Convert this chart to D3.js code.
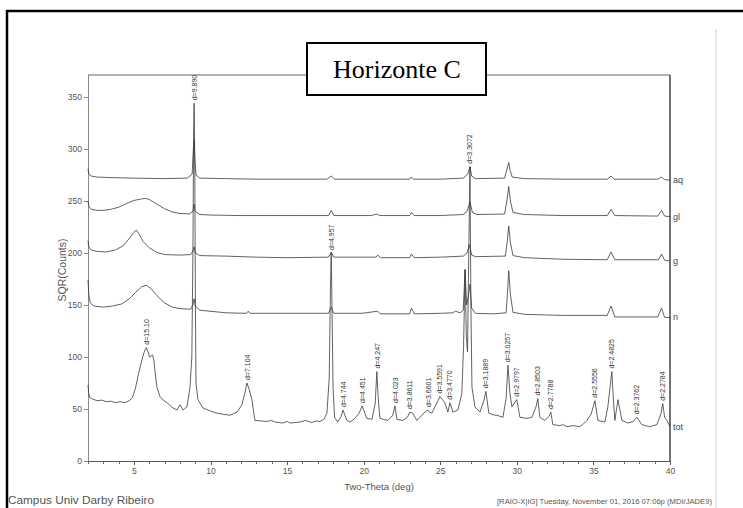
<!DOCTYPE html>
<html lang="pt">
  <head>
    <meta charset="utf-8" />
    <title>Horizonte C</title>
    <script src="https://d3js.org/d3.v7.min.js"></script>
    <style type="text/css">
      body {
        margin: 0;
        background: #fff;
      }
      svg {
        font-family: "Liberation Sans", Arial, sans-serif;
      }
      .axis path, .axis line {
        shape-rendering: crispEdges;
      }
    </style>
  </head>
  <body>
    <svg id="chart" width="743" height="508"></svg>

    <script type="text/javascript">
      // traces: [two-theta (deg), SQR(counts)]
      const aq = [[2.0,281],[2.05,276],[2.2,274],[2.6,273],[3.5,272.5],[5,272],[7,271.5],[8.5,272],[8.8,276],[8.88,300],
        [8.93,309],[8.98,290],[9.05,275],[9.3,272],[11,271.5],[13,271],[15,271],[17.6,271],[17.88,274],[18.1,271],
        [20,271],[23.0,271],[23.1,273],[23.25,271],[25,271],[26.5,272],[26.8,276],[26.94,283],[27.05,274],[27.3,271.5],
        [29.2,272],[29.4,283],[29.47,287],[29.55,280],[29.7,273],[30.5,271.5],[33,271],[35.9,271],[36.15,274],[36.35,271],
        [39.2,271],[39.45,273],[39.65,270.5],[40,270]];

      const gl = [[2.0,250],[2.05,245],[2.2,242],[2.6,241],[3.0,241],[3.5,242],[4.0,244],[4.5,247.5],[5.0,250.5],[5.5,252],
        [5.75,252.5],[6.0,251.5],[6.5,247],[7.0,242.5],[7.5,239.5],[8.0,238],[8.6,237.5],[8.85,240],[8.93,247],[9.0,240],
        [9.3,237],[10,236.5],[12,236],[14,236],[16,236],[17.7,236],[17.88,241],[18.05,236],[20.5,236],[20.85,237.5],
        [21.05,236],[23.0,236],[23.12,239],[23.3,236],[25,236],[26.5,237],[26.75,240],[26.94,249],[27.1,239],[27.4,237],
        [29.2,237.5],[29.35,250],[29.47,264],[29.58,250],[29.75,239],[30.5,237],[33,236],[35.9,236],[36.15,242],[36.4,236],
        [39.2,235.5],[39.45,241],[39.65,235.5],[40,235]];

      const g = [[2.0,212],[2.05,206],[2.2,203],[2.6,201.5],[3.2,201],[3.8,203],[4.3,207],[4.7,214],[5.0,220],[5.15,222],
        [5.35,218],[5.6,211],[6.0,205],[6.5,200.5],[7.0,198.5],[8.0,198],[8.7,198.5],[8.85,202],[8.93,206],[9.0,200],
        [9.3,197.5],[11,197],[13,196],[15,195.5],[17.7,196],[17.88,201],[18.05,196],[20.8,196],[20.92,198],[21.1,195.5],
        [23.0,195.5],[23.12,199],[23.3,195.5],[25,196],[26.5,197],[26.75,200],[26.9,208],[27.05,198],[27.3,196.5],
        [29.25,197],[29.38,212],[29.47,226],[29.58,210],[29.75,197.5],[30.5,195.5],[33,194],[35.9,193.5],[36.15,201],
        [36.4,193.5],[39.25,193.5],[39.45,199],[39.65,193],[40,192.5]];

      const n = [[2.0,174],[2.05,160],[2.15,152],[2.4,149],[3.0,148],[3.6,149],[4.2,151],[4.7,156],[5.1,162],[5.5,167.5],
        [5.8,169],[6.1,166],[6.5,159],[7.0,152],[7.5,148],[8.0,146.5],[8.7,146],[8.85,150],[8.93,156],[9.0,149],
        [9.3,145],[11,142.5],[12.35,142],[12.45,144],[12.6,142],[15,142],[17.7,142],[17.88,148],[18.05,142],[19.9,142],
        [20.9,144],[21.1,141.5],[23.0,141.5],[23.12,147],[23.3,141.5],[25,142],[25.8,142.5],[26.0,144],[26.3,142.5],
        [26.5,145],[26.62,184],[26.72,150],[26.85,160],[26.94,170],[27.05,147],[27.3,142],[28.5,141.5],[29.3,142.5],
        [29.38,160],[29.47,183],[29.58,160],[29.75,143],[30.5,141],[33,140],[35.9,140],[36.15,149],[36.4,138.5],
        [39.2,138.5],[39.45,147],[39.65,138],[40,138]];

      const tot = [[2.00,73],[2.04,66],[2.12,61],[2.3,59.5],[2.6,58],[2.9,58.5],[3.2,57],[3.5,57.5],[3.8,56],[4.1,57],
        [4.4,56],[4.7,58],[4.9,61],[5.1,70],[5.3,84],[5.5,96],[5.65,104],[5.8,109],[5.92,105],[6.02,100],[6.12,101],
        [6.22,102],[6.3,97],[6.37,87],[6.5,71],[6.7,62],[6.95,58],[7.16,56],[7.55,51],[7.81,49],[8.0,54],[8.2,49],
        [8.46,52],[8.66,71],[8.78,100],[8.85,200],[8.9,320],[8.93,344],[8.97,290],[9.01,160],[9.05,75],[9.18,59],
        [9.5,51],[10.0,48],[10.42,46],[10.8,45],[11.27,44],[11.73,47],[12.05,54],[12.25,66],[12.38,75],[12.5,70],
        [12.7,59],[12.9,39],[13.3,38.5],[13.68,38],[14.0,39],[14.2,37.5],[14.7,36.5],[15.0,38],[15.2,36.5],[15.5,37],
        [15.84,37.5],[16.2,39],[16.6,37],[16.9,38.5],[17.14,38],[17.4,40],[17.6,46],[17.75,80],[17.83,165],[17.88,200],
        [17.93,150],[18.0,70],[18.1,42],[18.3,37.5],[18.5,42],[18.65,49],[18.9,39],[19.1,37.5],[19.43,41],[19.7,46],
        [19.9,53],[20.2,41],[20.54,40],[20.75,55],[20.86,86],[20.95,60],[21.06,41],[21.3,40],[21.58,39],[21.9,44],
        [22.04,53],[22.17,40],[22.56,39],[22.85,42],[23.02,47],[23.2,46],[23.47,39],[23.8,44],[24.0,47],[24.19,49],
        [24.3,47],[24.45,46],[24.65,52],[24.85,58],[24.98,62],[25.15,59],[25.3,56],[25.5,47],[25.63,56],[25.83,47],
        [26.15,49],[26.41,65],[26.52,110],[26.62,184],[26.7,120],[26.78,105],[26.86,200],[26.94,283],[27.0,150],
        [27.07,71],[27.26,52],[27.59,47],[27.85,58],[27.98,67],[28.17,46],[28.57,44],[28.7,44],[29.09,42],[29.3,60],
        [29.42,92],[29.55,65],[29.68,52],[29.85,56],[30.0,59],[30.2,42],[30.66,41],[30.98,42],[31.25,52],[31.37,60],
        [31.5,42],[31.83,39],[32.1,43],[32.22,47],[32.35,35],[32.8,34],[33.0,35],[33.27,33],[33.7,34],[34.1,33],
        [34.3,35],[34.57,39],[34.85,45],[35.1,58],[35.29,39],[35.75,37.5],[35.94,52],[36.08,70],[36.2,86],[36.3,60],
        [36.4,39],[36.6,59],[36.86,39],[37.25,36.5],[37.6,38],[37.84,42],[38.16,35],[38.4,34],[38.68,33],[39.14,35],
        [39.4,45],[39.53,55],[39.65,42],[39.8,39],[40.0,33]];

      const traceNames = ["aq", "gl", "g", "n", "tot"];
      const traces = [aq, gl, g, n, tot];

      // d-spacing labels on the tot pattern
      const peakLabels = ["d=15.10","d=9.890","d=7.104","d=4.957","d=4.744","d=4.451","d=4.247","d=4.023","d=3.8611",
        "d=3.6601","d=3.5591","d=3.4770","d=3.3072","d=3.1889","d=3.0257","d=2.9797","d=2.8503","d=2.7788",
        "d=2.5556","d=2.4825","d=2.3762","d=2.2784"];
      const peakTheta = [5.85,8.93,12.40,17.88,18.67,19.91,20.88,22.05,23.02,24.25,24.98,25.62,26.94,27.98,29.42,30.0,
        31.37,32.22,35.1,36.2,37.84,39.53];
      const peakTop = [109,344,75,200,49,53,86,53,47,49,62,56,283,67,92,59,60,47,58,86,42,55];

      const xTicks = [5, 10, 15, 20, 25, 30, 35, 40];
      const yTicks = [0, 50, 100, 150, 200, 250, 300, 350];

      const svg = d3.select("#chart");

      // outer black frame (runs off the right and bottom of the picture)
      svg.append("rect")
        .attr("x", 7).attr("y", 11)
        .attr("width", 760).attr("height", 520)
        .attr("fill", "none")
        .attr("stroke", "#000")
        .attr("stroke-width", 2.5);

      // faint page edge on the right
      svg.append("line")
        .attr("x1", 716).attr("x2", 716)
        .attr("y1", 29).attr("y2", 508)
        .attr("stroke", "#e8e8e8")
        .attr("stroke-width", 2);

      const x = d3.scaleLinear().domain([2, 40]).range([88, 670]);
      const y = d3.scaleLinear().domain([0, 350]).range([461, 97]);

      // plot frame: grey top, dark right
      svg.append("line")
        .attr("x1", 88).attr("x2", 670).attr("y1", 75).attr("y2", 75)
        .attr("stroke", "#999").attr("stroke-width", 1.5);
      svg.append("line")
        .attr("x1", 670).attr("x2", 670).attr("y1", 75).attr("y2", 461)
        .attr("stroke", "#444").attr("stroke-width", 1.5);

      // y axis
      const yAxis = svg.append("g")
        .attr("class", "axis")
        .attr("transform", "translate(88,0)")
        .call(d3.axisLeft(y).tickValues(yTicks).tickSize(4).tickPadding(2));
      yAxis.select(".domain").attr("d", "M0,75V461").attr("stroke", "#888");
      yAxis.selectAll(".tick line").attr("stroke", "#888");
      yAxis.selectAll("text").attr("font-size", "8.5px").attr("fill", "#555")
        .attr("font-family", "'Liberation Sans', Arial, sans-serif");

      // x axis, minor ticks every degree then labelled majors
      const xMinor = svg.append("g")
        .attr("class", "axis")
        .attr("transform", "translate(0,461)")
        .call(d3.axisBottom(x).tickValues(d3.range(2, 41)).tickSize(3).tickFormat(""));
      xMinor.select(".domain").attr("stroke", "#555").attr("stroke-width", 1.5);
      xMinor.selectAll(".tick line").attr("stroke", "#666");

      const xAxis = svg.append("g")
        .attr("class", "axis")
        .attr("transform", "translate(0,461)")
        .call(d3.axisBottom(x).tickValues(xTicks).tickSize(4).tickPadding(3));
      xAxis.select(".domain").remove();
      xAxis.selectAll(".tick line").attr("stroke", "#555");
      xAxis.selectAll("text").attr("font-size", "8.5px").attr("fill", "#555")
        .attr("font-family", "'Liberation Sans', Arial, sans-serif");

      // axis titles
      svg.append("text")
        .attr("transform", "translate(66,270) rotate(-90)")
        .attr("text-anchor", "middle")
        .attr("font-size", "10.5px")
        .attr("fill", "#555")
        .text("SQR(Counts)");
      svg.append("text")
        .attr("x", x(21)).attr("y", 490)
        .attr("text-anchor", "middle")
        .attr("font-size", "9.5px")
        .attr("fill", "#555")
        .text("Two-Theta (deg)");

      // the five patterns
      const line = d3.line().x(d => x(d[0])).y(d => y(d[1]));
      svg.selectAll("path.trace")
        .data(traces)
        .enter()
        .append("path")
        .attr("class", "trace")
        .attr("d", line)
        .attr("fill", "none")
        .attr("stroke", "#3a3a3a")
        .attr("stroke-width", 0.8);

      // trace names at the right end
      svg.selectAll("text.tname")
        .data(traces)
        .enter()
        .append("text")
        .attr("class", "tname")
        .attr("x", 673)
        .attr("y", d => y(d[d.length - 1][1]) + 3)
        .attr("font-size", "9px")
        .attr("fill", "#444")
        .text((d, i) => traceNames[i]);

      // peak d-spacing labels, written upwards
      svg.selectAll("text.peak")
        .data(peakLabels)
        .enter()
        .append("text")
        .attr("class", "peak")
        .attr("transform", (d, i) => "translate(" + x(peakTheta[i]) + "," + (y(peakTop[i]) - 3) + ") rotate(-90)")
        .attr("dy", "0.35em")
        .attr("font-size", "7px")
        .attr("fill", "#333")
        .text(d => d);

      // title box
      svg.append("rect")
        .attr("x", 307).attr("y", 43)
        .attr("width", 179).attr("height", 52)
        .attr("fill", "#fff")
        .attr("stroke", "#000")
        .attr("stroke-width", 2);
      svg.append("text")
        .attr("x", 397).attr("y", 78)
        .attr("text-anchor", "middle")
        .attr("font-family", "'Liberation Serif', 'Times New Roman', serif")
        .attr("font-size", "26px")
        .attr("fill", "#000")
        .text("Horizonte C");

      // footer
      svg.append("text")
        .attr("x", 8).attr("y", 504)
        .attr("font-size", "10px")
        .attr("fill", "#555")
        .attr("textLength", 146)
        .attr("lengthAdjust", "spacingAndGlyphs")
        .text("Campus Univ Darby Ribeiro");
      svg.append("text")
        .attr("x", 497).attr("y", 504)
        .attr("font-size", "6.5px")
        .attr("fill", "#555")
        .attr("textLength", 215)
        .attr("lengthAdjust", "spacingAndGlyphs")
        .text("[RAIO-X|IG] Tuesday, November 01, 2016 07:06p (MDI/JADE9)");
    </script>
  </body>
</html>
